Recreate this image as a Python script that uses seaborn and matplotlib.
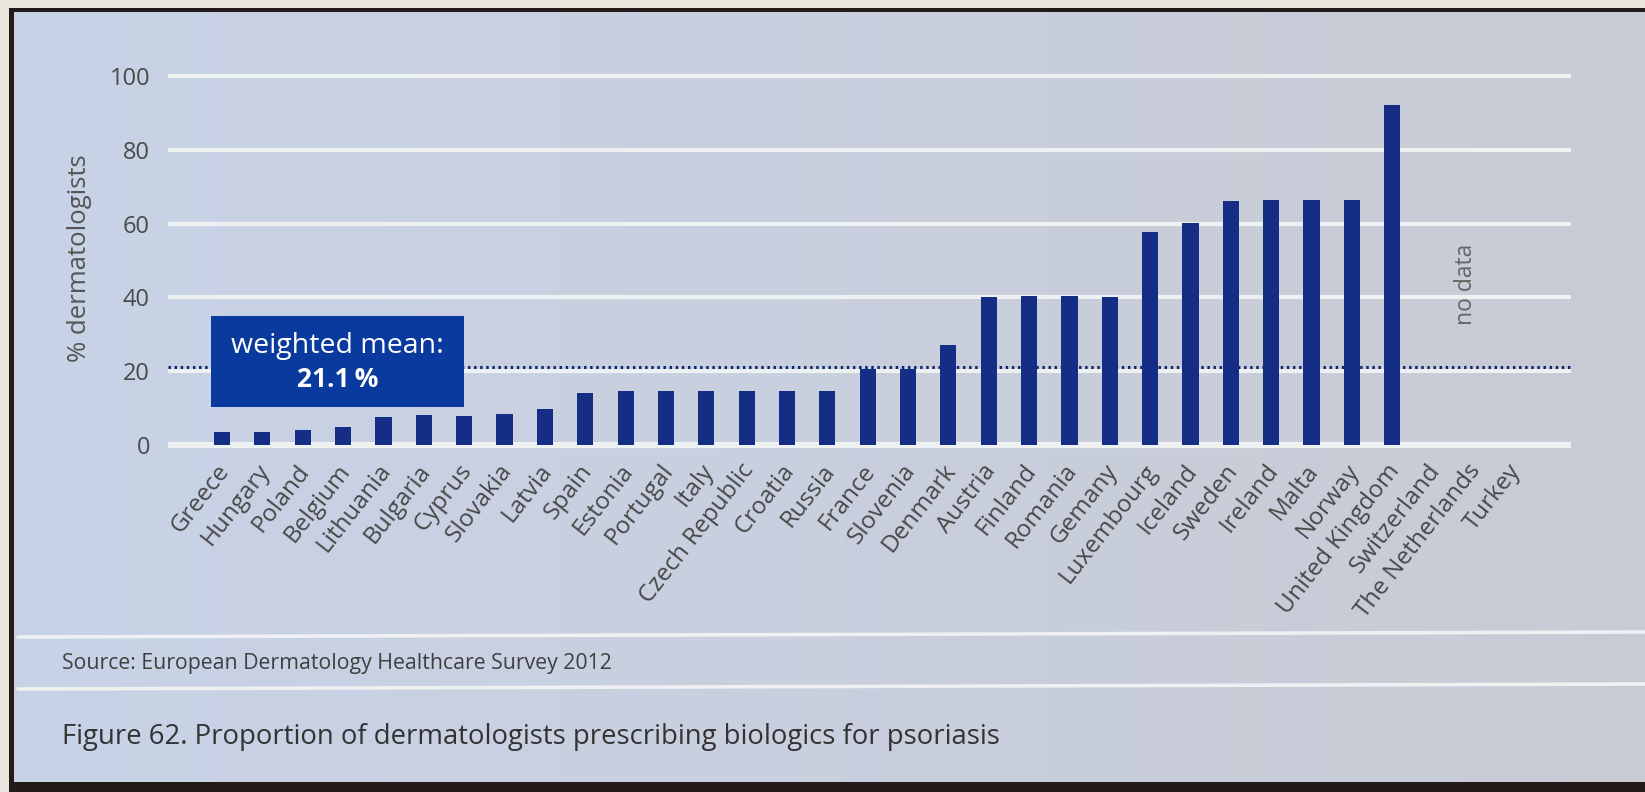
import numpy as np
import pandas as pd
import matplotlib
matplotlib.use("Agg")
import matplotlib.pyplot as plt
import matplotlib.transforms as mtransforms
from matplotlib.patches import Rectangle
from matplotlib.lines import Line2D
import seaborn as sns

# ---------------- data ----------------
countries = ["Greece", "Hungary", "Poland", "Belgium", "Lithuania", "Bulgaria", "Cyprus",
             "Slovakia", "Latvia", "Spain", "Estonia", "Portugal", "Italy", "Czech Republic",
             "Croatia", "Russia", "France", "Slovenia", "Denmark", "Austria", "Finland",
             "Romania", "Gemany", "Luxembourg", "Iceland", "Sweden", "Ireland", "Malta",
             "Norway", "United Kingdom", "Switzerland", "The Netherlands", "Turkey"]
countries_with_data = countries[:30]
values = [3.5, 3.5, 4.0, 5.0, 7.7, 8.1, 7.9, 8.3, 9.7, 14.2, 14.6, 14.6, 14.6, 14.6,
          14.6, 14.6, 20.5, 20.5, 27.0, 40.1, 40.5, 40.5, 40.1, 57.6, 60.2, 66.0,
          66.4, 66.4, 66.4, 92.1]
weighted_mean = 21.1
y_ticks = [0, 20, 40, 60, 80, 100]

df = pd.DataFrame({"country": countries_with_data, "pct": values})

# ---------------- style ----------------
sns.set_style("white")
plt.rcParams["font.family"] = ["Open Sans", "DejaVu Sans"]

W, H = 1645, 792
fig = plt.figure(figsize=(W / 100, H / 100), dpi=100)
fig.patch.set_facecolor("#e7e5de")

# background (photographed screen)
bg = fig.add_axes([0, 0, 1, 1], zorder=-10)
bg.axis("off")
bg.add_patch(Rectangle((9, 8), W + 20, H, facecolor="#231b19", edgecolor="none", zorder=-3))
c1 = np.array([0.785, 0.825, 0.905])
c2 = np.array([0.785, 0.795, 0.830])
n_strips = 120
edges = np.linspace(14, W + 1, n_strips + 1)
for i in range(n_strips):
    t = i / (n_strips - 1)
    col = tuple(c1 * (1 - t) + c2 * t)
    bg.add_patch(Rectangle((edges[i], 12), edges[i + 1] - edges[i] + 1, 770,
                           facecolor=col, edgecolor="none", zorder=-2))
for yy in (637, 689):
    bg.add_line(Line2D([18, W], [yy, yy - 5], color="#eef0f1", lw=2.6))
bg.text(62, 664, "Source: European Dermatology Healthcare Survey 2012",
        fontsize=15.3, color="#3f3f3f", va="center", ha="left")
bg.text(62, 737, "Figure 62. Proportion of dermatologists prescribing biologics for psoriasis",
        fontsize=19.8, color="#333333", va="center", ha="left")
bg.set_xlim(0, W)
bg.set_ylim(H, 0)

# main axes
x0, x1 = 168, 1571
ytop, ybot = 72.3, 448.7
ax = fig.add_axes([x0 / W, (H - ybot) / H, (x1 - x0) / W, (ybot - ytop) / H])
ax.set_facecolor("none")

sns.barplot(data=df, x="country", y="pct", order=countries, color="#152d85",
            width=0.40, saturation=1, ax=ax, zorder=3, linewidth=0, edgecolor="none")

ax.set_xlim(-1.34, 33.43)
ax.set_ylim(-1, 101)
ax.set_yticks(y_ticks)
ax.set_yticklabels([str(t) for t in y_ticks])
ax.yaxis.grid(True, color="#eef1f1", lw=3.0, solid_capstyle="round", zorder=0)
ax.xaxis.grid(False)
ax.set_axisbelow(True)
ax.yaxis.get_gridlines()[0].set_linewidth(4.5)
for s in ax.spines.values():
    s.set_visible(False)

ax.tick_params(axis="y", length=0, pad=13, labelsize=17, labelcolor="#4a4a4a")
ax.tick_params(axis="x", length=0, pad=13, labelsize=17.5, labelcolor="#474747")
offset = mtransforms.ScaledTranslation(3 / 100, 0, fig.dpi_scale_trans)
for lab in ax.get_xticklabels():
    lab.set_rotation(52)
    lab.set_ha("right")
    lab.set_va("center")
    lab.set_rotation_mode("anchor")
    lab.set_transform(lab.get_transform() + offset)

ax.set_xlabel("")
ax.set_ylabel("% dermatologists", fontsize=18.5, color="#555555")
ax.yaxis.set_label_coords(-0.054, 0.505)

# weighted mean line
ax.axhline(weighted_mean, color="#10266a", lw=2.2, ls=(0, (0.8, 1.2)), zorder=2)

# weighted mean box
ax.add_patch(Rectangle((-0.27, 10.3), 6.27, 24.7, facecolor="#0a3a9e",
                       edgecolor="none", zorder=5))
ax.text(2.86, 26.8, "weighted mean:", color="white", fontsize=20.5,
        ha="center", va="center", zorder=6)
ax.text(2.86, 17.8, "21.1\u2009%", color="white", fontsize=19,
        fontweight="bold", ha="center", va="center", zorder=6)

# no data label
ax.text(30.83, 43.6, "no data", rotation=90, color="#666666", fontsize=16.5,
        ha="center", va="center")

fig.savefig("out.png", dpi=100, facecolor=fig.get_facecolor())
